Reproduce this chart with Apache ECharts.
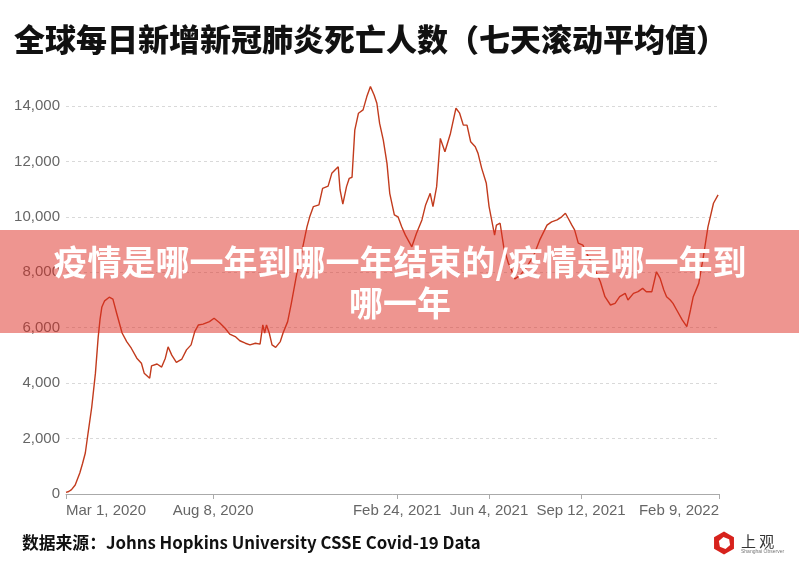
<!DOCTYPE html>
<html>
<head>
<meta charset="utf-8">
<script src="https://cdn.jsdelivr.net/npm/echarts@6/dist/echarts.min.js"></script>
<style>
html,body{margin:0;padding:0;background:#fff;}
#chart{width:799px;height:564px;}
</style>
</head>
<body>
<div id="chart"></div>
<script>
// Days since Mar 1, 2020
const dayOffsets = [0,3,6,10,15,18,21,24,28,32,35,37,39,42,47,51,55,61,66,71,77,82,85,91,93,99,104,108,111,115,120,126,131,136,140,144,149,156,161,167,173,178,184,189,195,200,206,211,214,216,218,221,224,228,233,236,241,245,251,256,262,265,269,275,279,285,289,293,296,298,301,305,308,311,314,318,323,327,331,335,338,341,345,349,352,357,361,365,369,376,381,387,391,396,399,403,407,412,418,424,428,432,436,440,445,448,452,457,460,466,468,472,476,481,483,488,494,501,508,515,523,528,534,539,543,546,550,553,557,562,566,573,581,586,592,597,602,608,611,617,622,627,631,637,642,646,650,653,657,660,664,670,675,679,682,688,693,698,704,709];
// 7-day rolling average of daily deaths
const deaths = [60,90,160,325,760,1100,1480,2200,3140,4360,5660,6300,6750,6970,7100,7030,6530,5810,5500,5260,4900,4720,4360,4180,4620,4690,4580,4900,5310,5010,4750,4870,5200,5380,5860,6100,6130,6220,6340,6180,5980,5770,5680,5530,5440,5380,5440,5410,6100,5810,6100,5810,5380,5290,5500,5810,6220,6880,7960,8680,9640,10000,10370,10430,11030,11110,11570,11710,11810,10970,10460,11090,11390,11430,13130,13740,13860,14330,14700,14400,14100,13370,12770,11930,10850,10070,10000,9640,9340,8920,9400,9890,10430,10850,10370,11090,12830,12350,13010,13920,13740,13310,13310,12710,12530,12290,11750,11210,10370,9340,9700,9770,8900,8320,8200,7760,7900,8200,8560,9160,9700,9820,9890,10000,10130,9950,9700,9530,9050,8980,8680,8260,7660,7120,6820,6880,7120,7240,7000,7240,7300,7420,7300,7300,8020,7780,7360,7120,7000,6880,6640,6280,6040,6640,7120,7600,8560,9640,10490,10790];
const tickDays = [0,160,360,460,560,710];
const tickLabels = ['Mar 1, 2020','Aug 8, 2020','Feb 24, 2021','Jun 4, 2021','Sep 12, 2021','Feb 9, 2022'];

const titleText = '全球每日新增新冠肺炎死亡人数（七天滚动平均值）';
const bannerText = '疫情是哪一年到哪一年结束的/疫情是哪一年到\n哪一年';
const sourceText = '数据来源：Johns Hopkins University CSSE Covid-19 Data';

const seriesData = dayOffsets.map((d, i) => [d, deaths[i]]);

const chart = echarts.init(document.getElementById('chart'), null, {renderer: 'canvas'});

function hexPoints(cx, cy, r, rot) {
  const pts = [];
  for (let i = 0; i < 6; i++) {
    const a = rot + i * Math.PI / 3;
    pts.push([cx + r * Math.cos(a), cy + r * Math.sin(a)]);
  }
  return pts;
}

chart.setOption({
  animation: false,
  backgroundColor: '#fff',
  title: {
    text: titleText,
    left: 14,
    top: 24,
    padding: 0,
    textStyle: {fontSize: 31, fontWeight: 900, color: '#111', fontFamily: 'Noto Sans CJK SC'}
  },
  grid: {left: 66, right: 80, top: 106, bottom: 70, containLabel: false},
  xAxis: {
    type: 'value',
    min: 0,
    max: 710,
    splitLine: {show: false},
    axisLine: {show: true, lineStyle: {color: '#aaa', width: 1}},
    axisTick: {show: true, customValues: tickDays, length: 5, lineStyle: {color: '#aaa'}},
    axisLabel: {
      customValues: tickDays,
      formatter: v => tickLabels[tickDays.indexOf(v)] || '',
      color: '#666',
      fontSize: 15,
      fontFamily: 'Liberation Sans, Arial, sans-serif',
      margin: 9,
      alignMinLabel: 'left',
      alignMaxLabel: 'right'
    }
  },
  yAxis: {
    type: 'value',
    min: 0,
    max: 14000,
    interval: 2000,
    axisLine: {show: false},
    axisTick: {show: false},
    splitLine: {show: true, lineStyle: {color: '#d9d9d9', type: [3, 3], width: 1}},
    axisLabel: {
      formatter: v => v.toLocaleString('en-US'),
      color: '#666',
      fontSize: 15,
      fontFamily: 'Liberation Sans, Arial, sans-serif',
      margin: 6
    }
  },
  series: [{
    type: 'line',
    data: seriesData,
    showSymbol: false,
    clip: false,
    smooth: false,
    lineStyle: {color: '#c23b1d', width: 1.4},
    z: 2
  }],
  graphic: [
    {
      type: 'rect', z: 100,
      shape: {x: 0, y: 230, width: 799, height: 103},
      style: {fill: 'rgba(221,44,34,0.5)'}
    },
    {
      type: 'text', z: 101,
      x: 400, y: 283,
      style: {
        text: bannerText,
        fill: '#fff',
        fontSize: 34,
        fontWeight: 'bold',
        fontFamily: 'Noto Sans CJK SC',
        lineHeight: 41,
        align: 'center',
        verticalAlign: 'middle'
      }
    },
    {
      type: 'text', z: 100,
      x: 22, y: 543,
      style: {
        text: sourceText,
        fill: '#111',
        fontSize: 16.8,
        fontWeight: 'bold',
        fontFamily: 'Noto Sans CJK SC',
        verticalAlign: 'middle'
      }
    },
    {
      type: 'polygon', z: 100,
      shape: {points: hexPoints(724, 543, 11.5, Math.PI / 6)},
      style: {fill: '#d7221c'}
    },
    {
      type: 'polygon', z: 101,
      shape: {points: hexPoints(724.5, 543, 6, 0.35)},
      style: {fill: '#fff'}
    },
    {
      type: 'text', z: 100,
      x: 741, y: 541,
      style: {text: '上 观', fill: '#333', fontSize: 15, fontFamily: 'Noto Sans CJK SC', verticalAlign: 'middle'}
    },
    {
      type: 'text', z: 100,
      x: 741, y: 552,
      style: {text: 'Shanghai Observer', fill: '#777', fontSize: 5, fontFamily: 'Liberation Sans, Arial', verticalAlign: 'middle'}
    }
  ]
});
</script>
</body>
</html>
